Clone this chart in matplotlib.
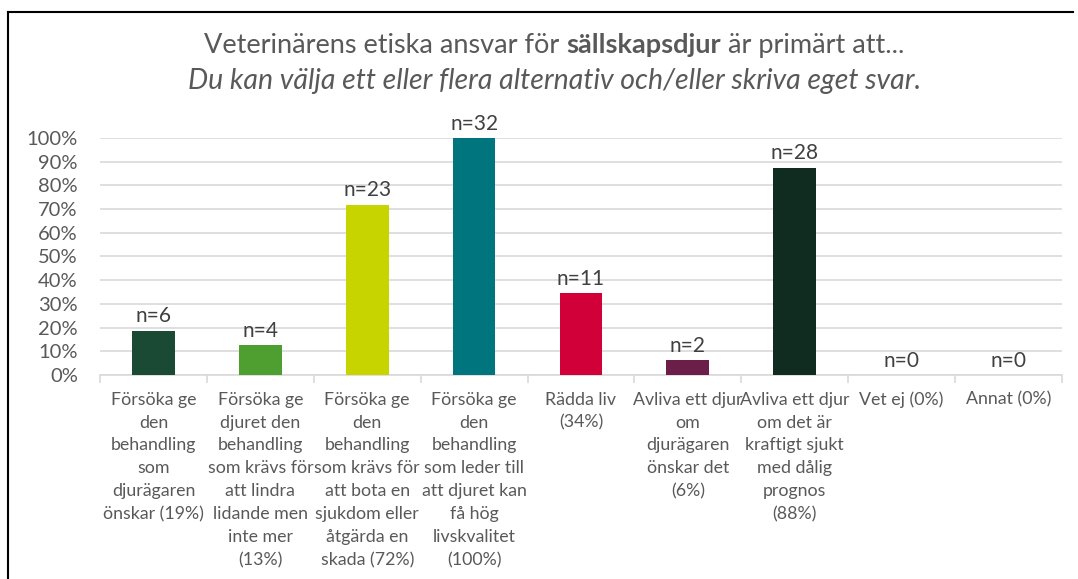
import matplotlib.pyplot as plt
from matplotlib.lines import Line2D

# ==========================================================
# Data
# ==========================================================

categories = [
    "Försöka ge\nden\nbehandling\nsom\ndjurägaren\nönskar (19%)",
    "Försöka ge\ndjuret den\nbehandling\nsom krävs för\natt lindra\nlidande men\ninte mer\n(13%)",
    "Försöka ge\nden\nbehandling\nsom krävs för\natt bota en\nsjukdom eller\nåtgärda en\nskada (72%)",
    "Försöka ge\nden\nbehandling\nsom leder till\natt djuret kan\nfå hög\nlivskvalitet\n(100%)",
    "Rädda liv\n(34%)",
    "Avliva ett djur\nom\ndjurägaren\nönskar det\n(6%)",
    "Avliva ett djur\nom det är\nkraftigt sjukt\nmed dålig\nprognos\n(88%)",
    "Vet ej (0%)",
    "Annat (0%)",
]
share_pct = [18.75, 12.5, 71.9, 100, 34.4, 6.25, 87.5, 0, 0]
counts = [6, 4, 23, 32, 11, 2, 28, 0, 0]
bar_colors = ["#1a4a34", "#4f9e30", "#c8d400", "#00757d", "#d10039",
              "#6b1f48", "#102b20", "#999999", "#999999"]
yticks = [0, 10, 20, 30, 40, 50, 60, 70, 80, 90, 100]

title_parts = [("Veterinärens etiska ansvar för ", "normal"),
               ("sällskapsdjur", "bold"),
               (" är primärt att...", "normal")]
subtitle = "Du kan välja ett eller flera alternativ och/eller skriva eget svar."

# ==========================================================
# Plot
# ==========================================================

plt.rcParams["font.family"] = ["Lato", "DejaVu Sans"]
grey = "#595959"

fig = plt.figure(figsize=(10.78, 5.79), dpi=100)
ax = fig.add_axes([0.0928, 0.3523, 0.8922, 0.4094])

x = list(range(len(categories)))
ax.bar(x, share_pct, width=0.4, color=bar_colors, zorder=3)

for xi, v, n in zip(x, share_pct, counts):
    ax.annotate(f"n={n}", (xi, v), xytext=(0, 3), textcoords="offset points",
                ha="center", va="bottom", fontsize=15, color="#404040",
                zorder=4, annotation_clip=False)

ax.set_xlim(-0.5, len(categories) - 0.5)
ax.set_ylim(0, 100)
ax.set_yticks(yticks)
ax.set_yticklabels([f"{t}%" for t in yticks], fontsize=14.5, color=grey)
ax.tick_params(axis="y", length=0, pad=16)
ax.yaxis.grid(True, color="#d9d9d9", lw=1.2, zorder=0)

ax.set_xticks(x)
ax.set_xticklabels(categories, fontsize=12.8, color=grey, linespacing=1.53)
ax.tick_params(axis="x", length=0, pad=12)
ax.set_xticks([i - 0.5 for i in range(len(categories) + 1)], minor=True)
ax.tick_params(axis="x", which="minor", length=6, color="#d9d9d9", width=1.2)

for s in ["top", "right", "left"]:
    ax.spines[s].set_visible(False)
ax.spines["bottom"].set_color("#d9d9d9")
ax.spines["bottom"].set_linewidth(1.2)

# title: first line mixes regular and bold, so measure the pieces
renderer = fig.canvas.get_renderer()
pieces = []
for txt, weight in title_parts:
    t = fig.text(0, 0.922, txt, ha="left", va="center", fontsize=19.5,
                 color=grey, fontweight=weight)
    pieces.append(t)
widths = [p.get_window_extent(renderer).width for p in pieces]
total = sum(widths)
cx = 0.5144 * fig.bbox.width
left = cx - total / 2
for p, w in zip(pieces, widths):
    p.set_x(left / fig.bbox.width)
    left += w

fig.text(0.5144, 0.86, subtitle, ha="center", va="center", fontsize=20.5,
         color=grey, style="italic")

# outer frame (cropped chart border)
fig.add_artist(Line2D([8 / 1078, 8 / 1078], [0, 1 - 12 / 579], color="black", lw=1.5))
fig.add_artist(Line2D([8 / 1078, 1073 / 1078], [1 - 12 / 579, 1 - 12 / 579], color="black", lw=1.5))

fig.savefig("out.png", dpi=100)
